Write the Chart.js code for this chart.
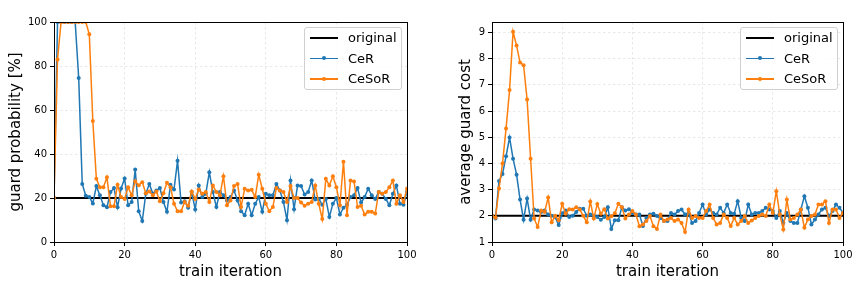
<!DOCTYPE html>
<html>
<head>
<meta charset="utf-8">
<script src="https://cdn.jsdelivr.net/npm/chart.js@4.4.1/dist/chart.umd.min.js"></script>
<style>
  body { margin: 0; background: #fff; font-family: 'DejaVu Sans', sans-serif; }
  .panel { position: absolute; top: 0; height: 285px; }
  .legend {
    position: absolute; box-sizing: border-box; width: 98px; height: 63px;
    border: 1px solid #d0d0d0; border-radius: 3px; background: rgba(255,255,255,0.8);
    font-size: 13px; color: #000;
  }
  .row { position: relative; height: 20.5px; }
  .row span.txt { position: absolute; left: 43px; top: 1px; line-height: 18px; }
  .row .sw { position: absolute; left: 5px; top: 9px; width: 28px; height: 1.5px; }
  .row .dot { position: absolute; left: 12px; top: -1.5px; width: 4px; height: 4px; border-radius: 50%; }
</style>
</head>
<body>
<div class="panel" style="left:0;width:430px">
  <canvas id="prob" width="430" height="285"></canvas>
  <div class="legend" style="left:304px;top:27px">
    <div class="row"><div class="sw" style="background:#000;height:2px"></div><span class="txt">original</span></div>
    <div class="row"><div class="sw" style="background:#1f77b4"><div class="dot" style="background:#1f77b4"></div></div><span class="txt">CeR</span></div>
    <div class="row"><div class="sw" style="background:#ff7f0e"><div class="dot" style="background:#ff7f0e"></div></div><span class="txt">CeSoR</span></div>
  </div>
</div>
<div class="panel" style="left:430px;width:431px">
  <canvas id="cost" width="431" height="285"></canvas>
  <div class="legend" style="left:310px;top:27px">
    <div class="row"><div class="sw" style="background:#000;height:2px"></div><span class="txt">original</span></div>
    <div class="row"><div class="sw" style="background:#1f77b4"><div class="dot" style="background:#1f77b4"></div></div><span class="txt">CeR</span></div>
    <div class="row"><div class="sw" style="background:#ff7f0e"><div class="dot" style="background:#ff7f0e"></div></div><span class="txt">CeSoR</span></div>
  </div>
</div>
<script>
// train iterations 0..100
const iterations = Array.from({ length: 101 }, (_, i) => i)

// guard probability [%]
const originalProb = 20
const cerProb = [
  20, 100, 100, 100, 100, 100, 100, 74.5, 26.4, 21,
  20.5, 17.5, 25.4, 21.2, 16.7, 15.8, 22.7, 24.5, 15.8, 24.3,
  28.9, 16.7, 18.2, 32.9, 14, 9.5, 21.9, 26.4, 22, 23.4,
  24.5, 18.2, 13.7, 26, 23.9, 36.9, 17.9, 18.5, 15.6, 22.7,
  14.8, 25.7, 20.4, 21.9, 31.7, 22.7, 15.9, 22.7, 21.2, 18.9,
  20.4, 23.4, 18.9, 14, 12.2, 17.4, 12.2, 17.4, 20.4, 13.7,
  21.9, 21.2, 21.2, 26.4, 23.4, 18.2, 9.9, 27.9, 14.9, 25.7,
  25.4, 21.6, 22.7, 27.9, 19.3, 19.6, 16.9, 19.6, 11.4, 17.4,
  20, 12.5, 15.6, 16.9, 20.4, 21.2, 24.5, 17.9, 20.4, 24.2,
  21.2, 19.6, 22.7, 21.9, 19.6, 16.7, 21.9, 25.7, 17.4, 16.9,
  22.7
]
const cesorProb = [
  20, 83, 100, 100, 100, 100, 100, 100, 100, 100,
  94.4, 55, 28.7, 24.9, 24.9, 29.4, 16.3, 16.3, 26, 20.4,
  19.6, 24.9, 21.2, 27.6, 25.8, 27.2, 22.2, 23, 21.2, 23,
  18.5, 22.2, 26.9, 24.9, 17.4, 14, 14, 18.2, 16.5, 23,
  19.6, 23.9, 21.9, 22.7, 18.2, 25.7, 22.7, 21.2, 29.9, 16.7,
  18.9, 25.4, 26.4, 15.9, 24.2, 23.4, 23.7, 20.4, 30.6, 24.2,
  17.4, 14, 15.9, 24.5, 23.4, 22.7, 18.2, 25.4, 20, 20,
  17.9, 16.5, 17.4, 18.2, 25.7, 17.4, 10.4, 28.7, 25.7, 29.9,
  24.9, 16.7, 36.5, 12.2, 27.9, 27.5, 15.9, 16.5, 12.5, 13.7,
  13.7, 12.9, 22.7, 21.9, 22.7, 24.9, 27.9, 17.4, 21.2, 18.2,
  24.2
]

// average guard cost
const originalCost = 2
const cerCost = [
  2.0, 1.9, 3.33, 3.6, 4.27, 4.99, 4.18, 3.57, 2.62, 1.85,
  2.66, 1.85, 2.24, 2.2, 2.15, 2.2, 2.05, 2.0, 1.95, 1.65,
  2.1, 2.2, 1.95, 2.0, 2.15, 2.27, 2.27, 2.0, 2.05, 2.0,
  1.95, 1.85, 1.95, 2.33, 1.5, 1.83, 1.83, 2.33, 2.2, 2.25,
  2.11, 2.05, 2.05, 1.61, 1.92, 2.05, 2.08, 1.99, 1.92, 1.8,
  1.8, 2.11, 2.05, 2.18, 2.24, 2.05, 2.11, 1.73, 1.8, 2.11,
  2.43, 2.05, 2.24, 2.11, 2.05, 2.31, 2.11, 2.43, 2.11, 2.08,
  2.56, 1.92, 1.8, 2.43, 2.05, 2.11, 2.11, 2.18, 2.31, 2.24,
  2.18, 1.92, 2.18, 1.73, 2.11, 1.8, 1.73, 1.73, 2.24, 2.75,
  2.31, 1.67, 1.86, 2.05, 2.24, 2.31, 1.99, 2.18, 2.43, 2.31,
  2.11
]
const cesorCost = [
  2.0, 1.93, 3.04, 4.0, 5.33, 6.8, 9.03, 8.5, 7.85, 7.75,
  6.44, 4.18, 1.9, 1.57, 2.2, 2.15, 2.7, 1.75, 2.0, 1.83,
  2.46, 2.08, 2.25, 2.24, 2.33, 2.24, 2.0, 1.75, 2.55, 1.9,
  2.45, 2.08, 2.25, 1.9, 1.98, 2.1, 2.46, 2.33, 1.9, 2.05,
  2.18, 2.05, 1.6, 1.67, 1.8, 1.99, 1.6, 1.5, 2.05, 1.8,
  1.86, 1.92, 1.8, 1.86, 1.73, 1.38, 2.24, 1.92, 1.99, 1.92,
  1.92, 2.18, 2.43, 1.92, 1.67, 1.73, 2.05, 1.92, 1.61, 1.92,
  1.67, 1.8, 1.99, 1.73, 1.82, 1.92, 1.99, 2.05, 1.99, 2.43,
  2.11, 2.94, 2.05, 1.48, 2.62, 1.86, 1.92, 2.05, 2.24, 1.54,
  1.86, 1.99, 2.05, 2.43, 2.43, 2.56, 1.73, 2.24, 2.24, 1.92,
  2.11
]

const BLUE = '#1f77b4'
const ORANGE = '#ff7f0e'
const FONT = "'DejaVu Sans', sans-serif"

// matplotlib style box round the plot area
const frame = {
  id: 'frame',
  afterDraw(chart) {
    const { ctx, chartArea: a } = chart
    ctx.save()
    ctx.strokeStyle = '#000'
    ctx.lineWidth = 1
    ctx.strokeRect(Math.round(a.left) + 0.5, Math.round(a.top) + 0.5,
      Math.round(a.right - a.left), Math.round(a.bottom - a.top))
    ctx.restore()
  }
}

function axisStyle() {
  return {
    grid: { color: 'rgba(0,0,0,0.09)', lineWidth: 1, tickColor: '#000', tickLength: 4, tickWidth: 1 },
    border: { color: '#000', width: 1, dash: [2.5, 2.5] },
    ticks: { color: '#000', font: { family: FONT, size: 10 }, padding: 3, includeBounds: false, maxRotation: 0 }
  }
}

function makeChart(id, cfg) {
  const xAxis = axisStyle()
  const yAxis = axisStyle()
  xAxis.ticks.stepSize = 20
  yAxis.ticks.stepSize = cfg.step
  return new Chart(document.getElementById(id), {
    type: 'line',
    data: {
      datasets: [
        {
          label: 'original',
          data: [{ x: iterations[0], y: cfg.base }, { x: iterations[iterations.length - 1], y: cfg.base }],
          borderColor: '#000', borderWidth: 2, pointRadius: 0, order: 3
        },
        {
          label: 'CeR',
          data: iterations.map((x, i) => ({ x, y: cfg.cer[i] })),
          borderColor: BLUE, backgroundColor: BLUE, borderWidth: 1.5,
          pointRadius: 2, pointBorderWidth: 0, order: 2
        },
        {
          label: 'CeSoR',
          data: iterations.map((x, i) => ({ x, y: cfg.cesor[i] })),
          borderColor: ORANGE, backgroundColor: ORANGE, borderWidth: 1.5,
          pointRadius: 2, pointBorderWidth: 0, order: 1
        }
      ]
    },
    options: {
      responsive: false,
      animation: false,
      layout: { padding: { top: 22, right: cfg.right, left: 0, bottom: 0 } },
      plugins: { legend: { display: false }, tooltip: { enabled: false } },
      scales: {
        x: {
          type: 'linear', min: 0, max: 100,
          ...xAxis,
          title: { display: true, text: 'train iteration', color: '#000', font: { family: FONT, size: 15 }, padding: { top: 0, bottom: 4 } },
          afterFit: s => { s.height = 43 }
        },
        y: {
          type: 'linear', min: cfg.ymin, max: cfg.ymax,
          ...yAxis,
          title: { display: true, text: cfg.ylabel, color: '#000', font: { family: FONT, size: 15 }, padding: { top: cfg.titlePad, bottom: 0 } },
          afterFit: s => { s.width = cfg.yw }
        }
      }
    },
    plugins: [frame]
  })
}

makeChart('prob', {
  base: originalProb, cer: cerProb, cesor: cesorProb,
  ymin: 0, ymax: 100, step: 20, ylabel: 'guard probability [%]',
  yw: 54, right: 23, titlePad: 7
})

makeChart('cost', {
  base: originalCost, cer: cerCost, cesor: cesorCost,
  ymin: 1, ymax: 9.4, step: 1, ylabel: 'average guard cost',
  yw: 62, right: 18, titlePad: 27
})
</script>
</body>
</html>
